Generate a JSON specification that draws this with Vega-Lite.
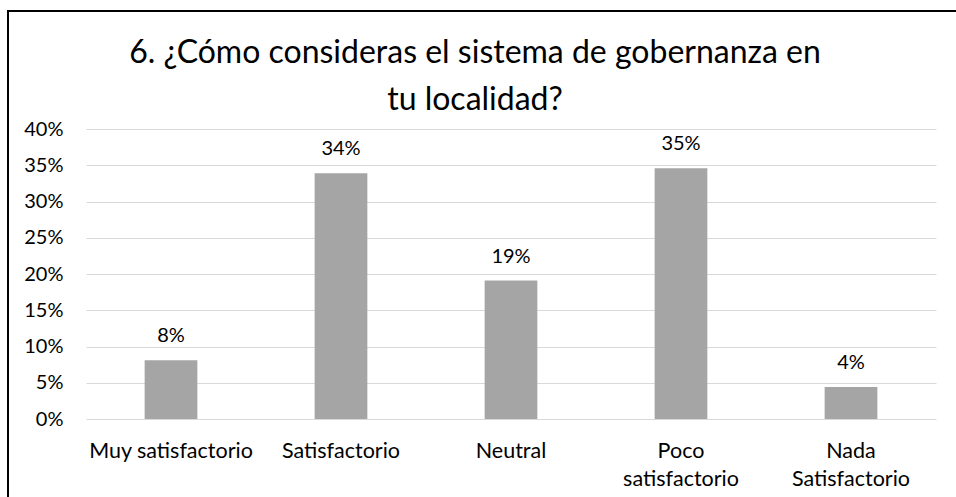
{
  "$schema": "https://vega.github.io/schema/vega-lite/v6.json",
  "width": 952,
  "height": 490,
  "padding": {"left": 8, "top": 11, "right": 0, "bottom": 0},
  "autosize": {"type": "pad"},
  "background": "white",
  "title": {
    "text": ["6. ¿Cómo consideras el sistema de gobernanza en", "tu localidad?"],
    "font": "Lato",
    "fontSize": 32,
    "fontWeight": "normal",
    "color": "#000000",
    "lineHeight": 47,
    "anchor": "middle",
    "frame": "group",
    "baseline": "top",
    "offset": -106,
    "dx": -9
  },
  "data": {
    "values": [
      {"categoria": "Muy satisfactorio", "porcentaje": 0.081},
      {"categoria": "Satisfactorio", "porcentaje": 0.339},
      {"categoria": "Neutral", "porcentaje": 0.191},
      {"categoria": "Poco satisfactorio", "porcentaje": 0.346},
      {"categoria": "Nada Satisfactorio", "porcentaje": 0.044}
    ]
  },
  "encoding": {
    "x": {
      "field": "categoria",
      "type": "nominal",
      "sort": null,
      "scale": {"range": [78, 928], "paddingInner": 0.69, "paddingOuter": 0.345},
      "axis": {
        "title": null,
        "orient": "bottom",
        "offset": -82,
        "domain": false,
        "ticks": false,
        "tickSize": 0,
        "labelPadding": 21,
        "labelAngle": 0,
        "labelLimit": 400,
        "labelFont": "Lato",
        "labelFontSize": 21.5,
        "labelColor": "#000000",
        "labelLineHeight": 28,
        "labelExpr": "datum.label == 'Poco satisfactorio' ? ['Poco', 'satisfactorio'] : datum.label == 'Nada Satisfactorio' ? ['Nada', 'Satisfactorio'] : datum.label"
      }
    },
    "y": {
      "field": "porcentaje",
      "type": "quantitative",
      "scale": {"domain": [0, 0.4], "range": [408, 118], "nice": false},
      "axis": {
        "title": null,
        "values": [0, 0.05, 0.1, 0.15, 0.2, 0.25, 0.3, 0.35, 0.4],
        "format": ".0%",
        "grid": true,
        "gridColor": "#d9d9d9",
        "gridWidth": 1,
        "domain": false,
        "ticks": false,
        "tickSize": 0,
        "labelPadding": 0,
        "offset": -55,
        "labelFont": "Lato",
        "labelFontSize": 20,
        "labelColor": "#000000"
      }
    }
  },
  "layer": [
    {"mark": {"type": "bar", "color": "#a5a5a5"}},
    {
      "mark": {"type": "text", "font": "Lato", "fontSize": 20, "color": "#000000", "baseline": "alphabetic", "dy": -18},
      "encoding": {"text": {"field": "porcentaje", "type": "quantitative", "format": ".0%"}}
    }
  ],
  "config": {"view": {"stroke": "#000000", "strokeWidth": 2}}
}
